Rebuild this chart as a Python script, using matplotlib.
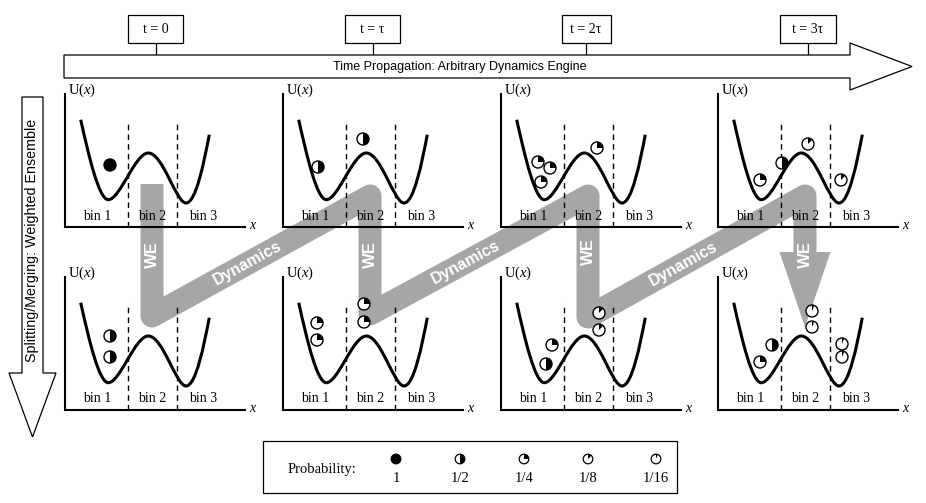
import numpy as np
import matplotlib
matplotlib.use("Agg")
import matplotlib.pyplot as plt
from matplotlib.patches import Circle, Wedge, Polygon, Rectangle, PathPatch
from matplotlib.path import Path

plt.rcParams['mathtext.fontset'] = 'custom'
plt.rcParams['mathtext.rm'] = 'Liberation Serif'
plt.rcParams['mathtext.it'] = 'Liberation Serif:italic'

SERIF = 'Liberation Serif'
SANS = 'Liberation Sans'
GRAY = '#a6a6a6'
H = 503  # pixel height, y runs upward in data coords

# time columns
time_labels = ['t = 0', 't = \u03c4', 't = 2\u03c4', 't = 3\u03c4']
time_x = [155.5, 372.5, 586, 808]
box_w = [55, 55, 49, 56]

# panels: origin of each little U(x) plot
panel_x = [65, 283, 501, 718]
row_y = [H - 227, H - 410]
bin_labels = ['bin 1', 'bin 2', 'bin 3']
bin_x = [32, 87, 138]
dash_x = [63.3, 111.7]

# double well drawn as cubic bezier (panel-relative points)
well_pts = [(15.7, 107.3),
            (24, 70), (34, 27.3), (43.3, 27.3),
            (55, 27.3), (70, 74), (83.3, 74),
            (98, 74), (111, 24), (121, 24),
            (131, 24), (139, 65), (144.3, 92.3)]

# walkers: (x, height, weight), panel-relative
top_walkers = [
    [(45, 62, 1)],
    [(35, 60, 1/2), (80, 88, 1/2)],
    [(37, 65, 1/4), (49, 59, 1/4), (40, 45, 1/4), (96, 79, 1/4)],
    [(42, 47, 1/4), (64, 64, 1/2), (90, 83, 1/8), (123, 47, 1/8)],
]
bottom_walkers = [
    [(45, 74, 1/2), (45, 53, 1/2)],
    [(34, 87, 1/4), (34, 70, 1/4), (81, 106, 1/4), (81, 88, 1/4)],
    [(45, 46, 1/2), (51, 65, 1/4), (98, 97, 1/8), (98, 80, 1/8)],
    [(42, 48, 1/4), (54, 65, 1/2), (94, 99, 1/16), (94, 83, 1/16),
     (124, 66, 1/16), (124, 53, 1/16)],
]

# legend
legend_w = [1, 1/2, 1/4, 1/8, 1/16]
legend_labels = ['1', '1/2', '1/4', '1/8', '1/16']
legend_x = [396, 460, 524, 588, 656]

# gray WE / dynamics path
we_x = [152, 370, 588, 805]
we_start = H - 184
we_top = H - 196
we_bottom = [H - 316, H - 314, H - 317]
we_head_base = H - 252
we_tip = H - 327
we_label_y = [H - 255, H - 255, H - 252, H - 255]


def walker(ax, x, y, w, r=6, lw=1.0):
    ax.add_patch(Circle((x, y), r, fc='white', ec='none', zorder=6))
    if w >= 1:
        ax.add_patch(Circle((x, y), r, fc='black', ec='none', zorder=7))
    else:
        ax.add_patch(Wedge((x, y), r, 90 - 360 * w, 90, fc='black', ec='none', zorder=7))
    ax.add_patch(Circle((x, y), r, fc='none', ec='black', lw=lw, zorder=8))


fig = plt.figure(figsize=(9.26, 5.03), dpi=100)
ax = fig.add_axes([0, 0, 1, 1])
ax.set_xlim(0, 926)
ax.set_ylim(0, H)
ax.axis('off')

# time boxes
for lab, cx, bw in zip(time_labels, time_x, box_w):
    ax.add_patch(Rectangle((cx - bw / 2, H - 43), bw, 28, fc='white', ec='black', lw=0.9, zorder=3))
    ax.text(cx, H - 29, lab, family=SERIF, fontsize=10, ha='center', va='center', zorder=4)
    ax.plot([cx, cx], [H - 55, H - 43], color='black', lw=0.9, zorder=2)

# time arrow
ax.add_patch(Polygon([(64, H - 55), (850, H - 55), (850, H - 43), (912, H - 66.5),
                      (850, H - 90), (850, H - 78), (64, H - 78)],
                     closed=True, fc='white', ec='black', lw=0.9, zorder=3))
ax.text(460, H - 66.5, 'Time Propagation: Arbitrary Dynamics Engine', family=SANS,
        fontsize=9, ha='center', va='center', zorder=4)

# splitting arrow
ax.add_patch(Polygon([(22, H - 97), (43, H - 97), (43, H - 373), (56, H - 373),
                      (32.5, H - 437), (9, H - 373), (22, H - 373)],
                     closed=True, fc='white', ec='black', lw=0.9, zorder=3))
ax.text(32.5, H - 240, 'Splitting/Merging: Weighted Ensemble', family=SANS,
        fontsize=10.3, rotation=90, ha='center', va='center', zorder=4)

# gray WE path
px = [we_x[0], we_x[0]]
py = [we_start, we_bottom[0]]
for i in range(1, 4):
    px += [we_x[i]]
    py += [we_top]
    if i < 3:
        px += [we_x[i]]
        py += [we_bottom[i]]
px += [we_x[3]]
py += [we_head_base]
ax.plot(px, py, color=GRAY, lw=23 * 0.72, solid_joinstyle='round', solid_capstyle='butt', zorder=1)
ax.add_patch(Polygon([(we_x[3] - 25.5, we_head_base), (we_x[3] + 25.5, we_head_base), (we_x[3], we_tip)],
                     closed=True, fc=GRAY, ec='none', zorder=1))
for x, y in zip(we_x, we_label_y):
    ax.text(x, y, 'WE', family=SANS, fontweight='bold', fontsize=12, color='white',
            rotation=90, ha='center', va='center', zorder=5)
for i in range(3):
    x0, y0 = we_x[i], we_bottom[i]
    x1, y1 = we_x[i + 1], we_top
    t = 0.44
    ang = np.degrees(np.arctan2(y1 - y0, x1 - x0))
    ax.text(x0 + t * (x1 - x0), y0 + t * (y1 - y0), 'Dynamics', family=SANS, fontweight='bold',
            fontsize=11.5, color='white', rotation=ang, rotation_mode='anchor',
            ha='center', va='center', zorder=5)

# panels
codes = [Path.MOVETO] + [Path.CURVE4] * 12
for row, walkers_row in enumerate([top_walkers, bottom_walkers]):
    oy = row_y[row]
    for col, ox in enumerate(panel_x):
        ax.plot([ox, ox, ox + 180], [oy + 133, oy, oy], color='black', lw=1.5,
                solid_joinstyle='miter', zorder=2)
        ax.text(ox + 3, oy + 137, 'U$(x)$', family=SERIF, fontsize=10.5, ha='left', va='center', zorder=3)
        ax.text(ox + 188, oy + 2, '$x$', fontsize=10, ha='center', va='center', zorder=3)
        for dx in dash_x:
            ax.plot([ox + dx, ox + dx], [oy, oy + 107], color='black', lw=1.0,
                    dashes=(4, 3), zorder=2)
        for lab, bx in zip(bin_labels, bin_x):
            ax.text(ox + bx, oy + 11, lab, family=SERIF, fontsize=10, ha='center', va='center', zorder=3)
        verts = [(ox + a, oy + b) for a, b in well_pts]
        ax.add_patch(PathPatch(Path(verts, codes), fc='none', ec='black', lw=2.2, zorder=2))
        for x, y, w in walkers_row[col]:
            walker(ax, ox + x, oy + y, w)

# legend box
ax.add_patch(Rectangle((263, H - 493), 414, 52, fc='white', ec='black', lw=0.9, zorder=3))
ax.text(322, H - 469, 'Probability:', family=SERIF, fontsize=10.5, ha='center', va='center', zorder=4)
for x, w, lab in zip(legend_x, legend_w, legend_labels):
    walker(ax, x, H - 459, w, r=4.8, lw=0.9)
    ax.text(x, H - 479, lab, family=SERIF, fontsize=10.5, ha='center', va='center', zorder=4)

fig.savefig('out.png', dpi=100)
